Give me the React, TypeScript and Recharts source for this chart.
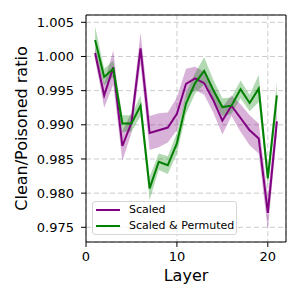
import React from 'react';
import {
  ComposedChart, Area, Line, XAxis, YAxis, CartesianGrid, Legend, ReferenceLine, Label,
} from 'recharts';

const layers = [1, 2, 3, 4, 5, 6, 7, 8, 9, 10, 11, 12, 13, 14, 15, 16, 17, 18, 19, 20, 21];

const scaledMean = [
  1.0005, 0.9943, 0.9984, 0.9869, 0.9903, 1.0012, 0.9888, 0.9892, 0.9896, 0.9916, 0.996,
  0.9968, 0.9961, 0.9936, 0.9906, 0.9928, 0.991, 0.9892, 0.988, 0.9771, 0.9905,
];
const scaledErr = [
  0.0009, 0.0018, 0.0025, 0.0022, 0.0015, 0.0023, 0.0025, 0.0025, 0.0022, 0.0024, 0.0022,
  0.0017, 0.0017, 0.0018, 0.002, 0.0015, 0.002, 0.0022, 0.0022, 0.0025, 0.0018,
];

const permutedMean = [
  1.0024, 0.997, 0.9982, 0.9902, 0.9902, 0.9928, 0.9807, 0.9846, 0.9841, 0.9873, 0.9931,
  0.9961, 0.9979, 0.9951, 0.9926, 0.9928, 0.9952, 0.9932, 0.9953, 0.9822, 0.9943,
];
const permutedErr = [
  0.002, 0.0012, 0.0012, 0.0012, 0.0012, 0.0015, 0.0017, 0.0012, 0.0013, 0.0015, 0.0015,
  0.0015, 0.002, 0.0015, 0.0013, 0.0012, 0.0013, 0.0012, 0.002, 0.0012, 0.002,
];

const xTicks = [0, 10, 20];
const yTicks = [0.975, 0.98, 0.985, 0.99, 0.995, 1.0, 1.005];

const X_DOMAIN = [0, 22];
const Y_DOMAIN = [0.97285, 1.00607];

const rows = layers.map((layer, i) => ({
  layer,
  scaled: scaledMean[i],
  scaledBand: [scaledMean[i] - scaledErr[i], scaledMean[i] + scaledErr[i]],
  permuted: permutedMean[i],
  permutedBand: [permutedMean[i] - permutedErr[i], permutedMean[i] + permutedErr[i]],
}));

const PURPLE = '#800080';
const GREEN = '#008000';
const FONT = '"DejaVu Sans", sans-serif';

const LegendBox = ({ payload }: any) => (
  <div
    style={{
      width: 145,
      height: 34,
      boxSizing: 'border-box',
      border: '1px solid #d6d6d6',
      borderRadius: 3,
      background: 'rgba(255,255,255,0.8)',
      padding: '0 0 0 2px',
      fontFamily: FONT,
      fontSize: 11,
      color: '#000',
    }}
  >
    {(payload || [])
      .filter((p: any) => p.dataKey === 'scaled' || p.dataKey === 'permuted')
      .map((p: any) => (
        <div key={p.value} style={{ display: 'flex', alignItems: 'center', height: 16 }}>
          <svg width={24} height={4} style={{ marginLeft: 1 }}>
            <line x1={0} y1={2} x2={24} y2={2} stroke={p.color} strokeWidth={2} />
          </svg>
          <span style={{ marginLeft: 9, lineHeight: '16px' }}>{p.value}</span>
        </div>
      ))}
  </div>
);

const App: React.FC = () => {
  return (
    <div style={{ position: 'absolute', left: 0, top: 0, width: 300, height: 300, background: '#fff' }}>
      <ComposedChart
        width={300}
        height={300}
        data={rows}
        margin={{ top: 15, right: 14, left: 0, bottom: 0 }}
        style={{ fontFamily: FONT }}
      >
        <CartesianGrid stroke="#cccccc" strokeDasharray="5 3" />
        <XAxis
          dataKey="layer"
          type="number"
          domain={X_DOMAIN}
          ticks={xTicks}
          height={58}
          tickSize={5}
          tickMargin={5}
          stroke="#000"
          tick={{ fill: '#000', fontSize: 13, fontFamily: FONT }}
        >
          <Label value="Layer" position="insideBottom" offset={19} style={{ fontSize: 16, fill: '#000', fontFamily: FONT }} />
        </XAxis>
        <YAxis
          type="number"
          domain={Y_DOMAIN}
          ticks={yTicks}
          allowDataOverflow
          width={86}
          tickSize={5}
          tickMargin={7}
          stroke="#000"
          tickFormatter={(v: number) => v.toFixed(3)}
          tick={{ fill: '#000', fontSize: 13, fontFamily: FONT }}
        >
          <Label
            value="Clean/Poisoned ratio"
            position="center"
            angle={-90}
            dx={-22}
            style={{ fontSize: 16, fill: '#000', fontFamily: FONT, textAnchor: 'middle' }}
          />
        </YAxis>
        <ReferenceLine y={Y_DOMAIN[1]} stroke="#000" strokeWidth={1} />
        <ReferenceLine x={X_DOMAIN[1]} stroke="#000" strokeWidth={1} />
        <Area
          dataKey="scaledBand"
          type="linear"
          stroke="none"
          fill={PURPLE}
          fillOpacity={0.3}
          legendType="none"
          isAnimationActive={false}
        />
        <Line
          dataKey="scaled"
          name="Scaled"
          type="linear"
          stroke={PURPLE}
          strokeWidth={2}
          dot={false}
          isAnimationActive={false}
        />
        <Area
          dataKey="permutedBand"
          type="linear"
          stroke="none"
          fill={GREEN}
          fillOpacity={0.3}
          legendType="none"
          isAnimationActive={false}
        />
        <Line
          dataKey="permuted"
          name="Scaled & Permuted"
          type="linear"
          stroke={GREEN}
          strokeWidth={2}
          dot={false}
          isAnimationActive={false}
        />
        <Legend
          layout="vertical"
          align="center"
          verticalAlign="middle"
          content={<LegendBox />}
          wrapperStyle={{ left: 92, top: 201, width: 145, height: 34 }}
        />
      </ComposedChart>
    </div>
  );
};

export default App;
